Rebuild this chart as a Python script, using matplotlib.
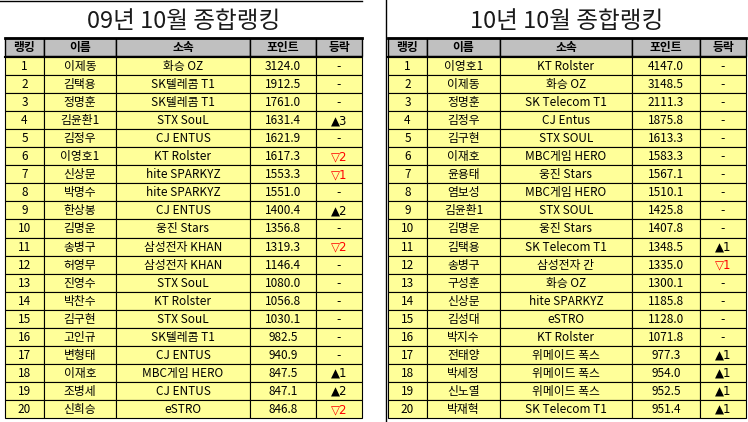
import matplotlib.pyplot as plt
from matplotlib.patches import Rectangle

plt.rcParams['font.family'] = ['Noto Sans CJK KR', 'DejaVu Sans']

headers = ["랭킹", "이름", "소속", "포인트", "등락"]

left_title = "09년 10월 종합랭킹"
left_names = ["이제동", "김택용", "정명훈", "김윤환1", "김정우", "이영호1", "신상문", "박명수", "한상봉", "김명운",
              "송병구", "허영무", "진영수", "박찬수", "김구현", "고인규", "변형태", "이재호", "조병세", "신희승"]
left_teams = ["화승 OZ", "SK텔레콤 T1", "SK텔레콤 T1", "STX SouL", "CJ ENTUS", "KT Rolster", "hite SPARKYZ",
              "hite SPARKYZ", "CJ ENTUS", "웅진 Stars", "삼성전자 KHAN", "삼성전자 KHAN", "STX SouL", "KT Rolster",
              "STX SouL", "SK텔레콤 T1", "CJ ENTUS", "MBC게임 HERO", "CJ ENTUS", "eSTRO"]
left_points = [3124.0, 1912.5, 1761.0, 1631.4, 1621.9, 1617.3, 1553.3, 1551.0, 1400.4, 1356.8,
               1319.3, 1146.4, 1080.0, 1056.8, 1030.1, 982.5, 940.9, 847.5, 847.1, 846.8]
left_change = ["-", "-", "-", "▲3", "-", "▽2", "▽1", "-", "▲2", "-",
               "▽2", "-", "-", "-", "-", "-", "-", "▲1", "▲2", "▽2"]

right_title = "10년 10월 종합랭킹"
right_names = ["이영호1", "이제동", "정명훈", "김정우", "김구현", "이재호", "윤용태", "염보성", "김윤환1", "김명운",
               "김택용", "송병구", "구성훈", "신상문", "김성대", "박지수", "전태양", "박세정", "신노열", "박재혁"]
right_teams = ["KT Rolster", "화승 OZ", "SK Telecom T1", "CJ Entus", "STX SOUL", "MBC게임 HERO", "웅진 Stars",
               "MBC게임 HERO", "STX SOUL", "웅진 Stars", "SK Telecom T1", "삼성전자 칸", "화승 OZ", "hite SPARKYZ",
               "eSTRO", "KT Rolster", "위메이드 폭스", "위메이드 폭스", "위메이드 폭스", "SK Telecom T1"]
right_points = [4147.0, 3148.5, 2111.3, 1875.8, 1613.3, 1583.3, 1567.1, 1510.1, 1425.8, 1407.8,
                1348.5, 1335.0, 1300.1, 1185.8, 1128.0, 1071.8, 977.3, 954.0, 952.5, 951.4]
right_change = ["-"] * 10 + ["▲1", "▽1", "-", "-", "-", "-", "▲1", "▲1", "▲1", "▲1"]

W, H = 748, 422
fig = plt.figure(figsize=(W / 100, H / 100), dpi=100)
ax = fig.add_axes([0, 0, 1, 1])
ax.set_xlim(0, W)
ax.set_ylim(H, 0)
ax.axis("off")


def draw_table(xs, title, names, teams, points, change):
    ax.text((xs[0] + xs[-1]) / 2, 21, title, ha="center", va="center", fontsize=17, color="#1a1a1a")
    ax.plot([xs[0], xs[-1]], [37.5, 37.5], color="black", lw=2)
    hy, rh = 38, 18.05
    for i, h in enumerate(headers):
        ax.add_patch(Rectangle((xs[i], hy), xs[i + 1] - xs[i], 18, fc="#c0c0c0", ec="black", lw=1))
        ax.text((xs[i] + xs[i + 1]) / 2, hy + 9.5, h, ha="center", va="center", fontsize=8.5, weight="bold")
    ax.plot([xs[0], xs[-1]], [56.5, 56.5], color="black", lw=1.5)
    for r in range(len(names)):
        y = 57 + r * rh
        vals = [str(r + 1), names[r], teams[r], f"{points[r]:.1f}", change[r]]
        for i, v in enumerate(vals):
            ax.add_patch(Rectangle((xs[i], y), xs[i + 1] - xs[i], rh, fc="#ffff99", ec="black", lw=0.8))
            col = "red" if "▽" in v else "black"
            ax.text((xs[i] + xs[i + 1]) / 2, y + rh / 2 + 0.5, v, ha="center", va="center",
                    fontsize=8.5, color=col, family=['DejaVu Sans', 'Noto Sans CJK KR'] if i == 4 else None)


draw_table([5, 44, 116, 250, 316, 362], left_title, left_names, left_teams, left_points, left_change)
draw_table([388, 427, 500, 632, 700, 746], right_title, right_names, right_teams, right_points, right_change)
ax.plot([0, 362], [1, 1], color="black", lw=1)
ax.plot([386, 386], [0, H], color="black", lw=1)

fig.savefig("out.png", dpi=100)
